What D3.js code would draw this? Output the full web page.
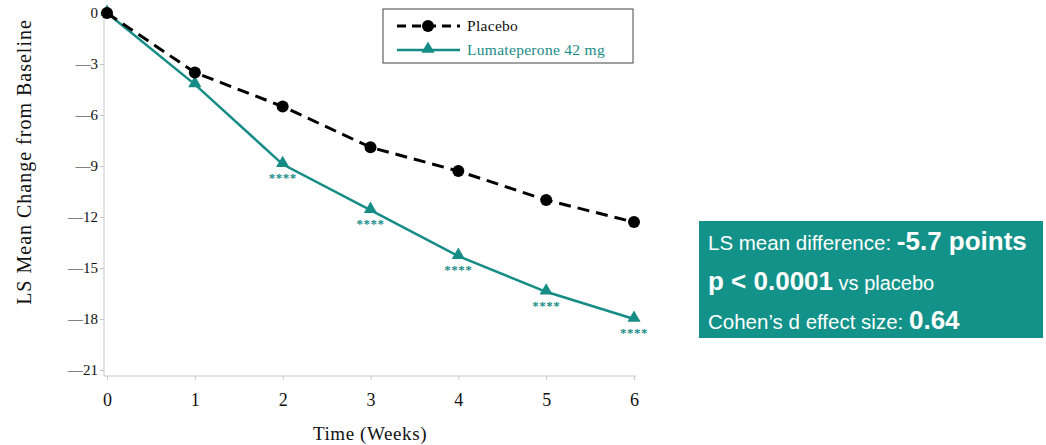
<!DOCTYPE html>
<html lang="en">
<head>
  <meta charset="UTF-8">
  <title>LS Mean Change from Baseline</title>
  <script src="https://d3js.org/d3.v7.min.js"></script>
  <style>
    body {
      margin: 0;
      background: #fff;
    }
    svg text.serif {
      font-family: "Liberation Serif", "DejaVu Serif", serif;
    }
    .tick text {
      font-family: "Liberation Serif", serif;
      font-size: 15px;
      fill: #111;
    }
  </style>
</head>
<body>
  <svg width="1046" height="445"></svg>

  <script>
    const weeks = [0, 1, 2, 3, 4, 5, 6];
    const placebo = [0, -3.5, -5.5, -7.9, -9.3, -11.0, -12.3];
    const lumateperone = [0, -4.2, -8.9, -11.6, -14.3, -16.4, -18.0];
    const significance = ["", "", "****", "****", "****", "****", "****"];
    const yTicks = [0, -3, -6, -9, -12, -15, -18, -21];
    const seriesNames = ["Placebo", "Lumateperone 42 mg"];

    const teal = "#168c87";
    const boxTeal = "#13928a";
    const axisGray = "#c4c7ca";

    const svg = d3.select("svg");

    const x = d3.scaleLinear().domain([0, 6]).range([107, 634]);
    const y = d3.scaleLinear().domain([0, -21]).range([13, 370]);

    // Y axis
    const yAxis = svg.append("g")
      .attr("transform", "translate(104,0)")
      .call(d3.axisLeft(y).tickValues(yTicks).tickSize(4).tickPadding(2)
        .tickFormat(d => d === 0 ? "0" : "\u2014" + Math.abs(d)));
    yAxis.select(".domain").attr("stroke", axisGray).attr("d", "M0,13V376");
    yAxis.selectAll(".tick line").attr("stroke", axisGray);

    // X axis
    const xAxis = svg.append("g")
      .attr("transform", "translate(0,376)")
      .call(d3.axisBottom(x).tickValues(weeks).tickSize(4).tickPadding(13)
        .tickFormat(d3.format("d")));
    xAxis.select(".domain").attr("stroke", axisGray).attr("d", "M104,0H636");
    xAxis.selectAll(".tick line").attr("stroke", axisGray);
    xAxis.selectAll(".tick text").style("font-size", "18px");

    // Axis titles
    svg.append("text")
      .attr("class", "serif")
      .attr("transform", "translate(31,162) rotate(-90)")
      .attr("text-anchor", "middle")
      .style("font-size", "20px")
      .style("letter-spacing", "1px")
      .attr("fill", "#111")
      .text("LS Mean Change from Baseline");

    svg.append("text")
      .attr("class", "serif")
      .attr("x", 370)
      .attr("y", 440)
      .attr("text-anchor", "middle")
      .style("font-size", "19px")
      .style("letter-spacing", "0.6px")
      .attr("fill", "#111")
      .text("Time (Weeks)");

    const line = d3.line()
      .x((d, i) => x(weeks[i]))
      .y(d => y(d));

    const triangle = d3.symbol().type(d3.symbolTriangle).size(75);

    // Lumateperone
    svg.append("path")
      .datum(lumateperone)
      .attr("fill", "none")
      .attr("stroke", teal)
      .attr("stroke-width", 2.5)
      .attr("d", line);

    svg.selectAll(".tri")
      .data(lumateperone)
      .join("path")
      .attr("class", "tri")
      .attr("transform", (d, i) => `translate(${x(weeks[i])},${y(d) - 1})`)
      .attr("d", triangle)
      .attr("fill", teal);

    svg.selectAll(".sig")
      .data(lumateperone)
      .join("text")
      .attr("class", "sig serif")
      .attr("x", (d, i) => x(weeks[i]))
      .attr("y", d => y(d) + 18)
      .attr("text-anchor", "middle")
      .style("font-size", "13px")
      .style("font-weight", "bold")
      .style("letter-spacing", "0.5px")
      .attr("fill", teal)
      .text((d, i) => significance[i]);

    // Placebo
    svg.append("path")
      .datum(placebo)
      .attr("fill", "none")
      .attr("stroke", "#000")
      .attr("stroke-width", 3)
      .attr("stroke-dasharray", "12,7")
      .attr("d", line);

    svg.selectAll(".dot")
      .data(placebo)
      .join("circle")
      .attr("class", "dot")
      .attr("cx", (d, i) => x(weeks[i]))
      .attr("cy", d => y(d))
      .attr("r", 6)
      .attr("fill", "#000");

    // Legend
    const legend = svg.append("g");
    legend.append("rect")
      .attr("x", 383).attr("y", 9)
      .attr("width", 250).attr("height", 54)
      .attr("fill", "#fff")
      .attr("stroke", "#444")
      .attr("stroke-width", 1);

    legend.append("line")
      .attr("x1", 397).attr("x2", 460).attr("y1", 26).attr("y2", 26)
      .attr("stroke", "#000").attr("stroke-width", 3)
      .attr("stroke-dasharray", "9,6");
    legend.append("circle")
      .attr("cx", 428).attr("cy", 26).attr("r", 6).attr("fill", "#000");
    legend.append("text")
      .attr("class", "serif")
      .attr("x", 467).attr("y", 31)
      .style("font-size", "15.5px")
      .style("letter-spacing", "0.3px")
      .attr("fill", "#111")
      .text(seriesNames[0]);

    legend.append("line")
      .attr("x1", 397).attr("x2", 460).attr("y1", 50).attr("y2", 50)
      .attr("stroke", teal).attr("stroke-width", 2.5);
    legend.append("path")
      .attr("transform", "translate(428,49)")
      .attr("d", triangle)
      .attr("fill", teal);
    legend.append("text")
      .attr("class", "serif")
      .attr("x", 467).attr("y", 55)
      .style("font-size", "15.5px")
      .style("letter-spacing", "0.3px")
      .attr("fill", teal)
      .text(seriesNames[1]);

    // Stats box
    const box = svg.append("g");
    box.append("rect")
      .attr("x", 699).attr("y", 221)
      .attr("width", 344).attr("height", 117)
      .attr("fill", boxTeal);

    const boxLines = [
      { y: 250, parts: [["LS mean difference: ", 20.5, "normal"], ["-5.7 points", 26, "bold"]] },
      { y: 290, parts: [["p < 0.0001", 26, "bold"], [" vs placebo", 20, "normal"]] },
      { y: 329, parts: [["Cohen\u2019s d effect size: ", 20.5, "normal"], ["0.64", 26, "bold"]] }
    ];

    boxLines.forEach(l => {
      const t = box.append("text")
        .attr("x", 708).attr("y", l.y)
        .attr("fill", "#fff")
        .style("font-family", "'Liberation Sans', Arial, sans-serif");
      l.parts.forEach(p => {
        t.append("tspan")
          .style("font-size", p[1] + "px")
          .style("font-weight", p[2])
          .text(p[0]);
      });
    });
  </script>
</body>
</html>
